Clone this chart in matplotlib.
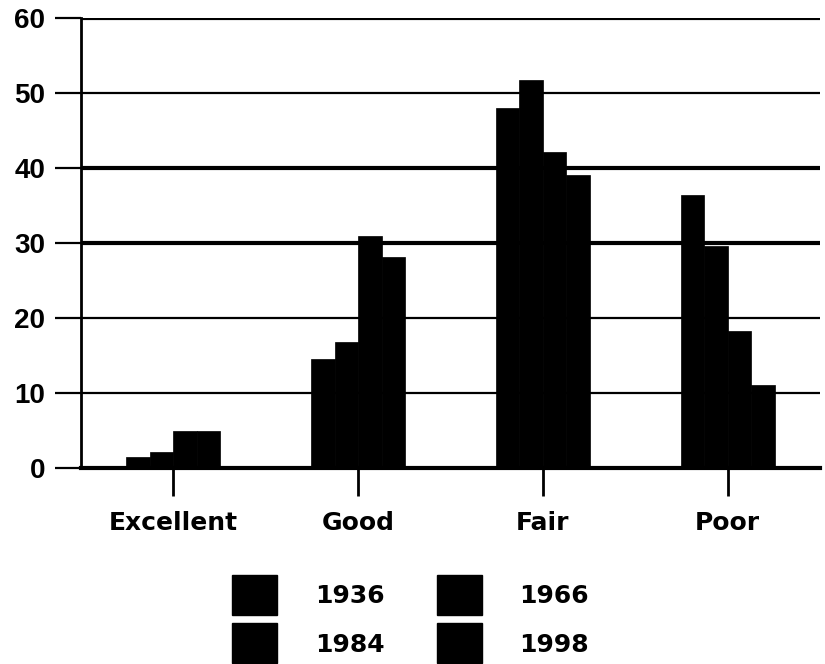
import matplotlib
matplotlib.use("Agg")
import numpy as np
import matplotlib.pyplot as plt
from matplotlib.patches import Patch, Rectangle
from matplotlib.legend_handler import HandlerPatch

categories = ["Excellent", "Good", "Fair", "Poor"]
years = ["1936", "1966", "1984", "1998"]
# percent of ratings per year
v1936 = [1.5, 14.5, 48.0, 36.4]
v1966 = [2.1, 16.8, 51.7, 29.6]
v1984 = [4.9, 30.9, 42.1, 18.3]
v1998 = [4.9, 28.1, 39.1, 11.1]
yticks = [0, 10, 20, 30, 40, 50, 60]

plt.rcParams["font.family"] = ["DejaVu Sans"]


def big_square(legend, orig_handle, xdescent, ydescent, width, height, fontsize):
    # tall squares (about 40 px), nudged a bit down to sit level with the text
    h = 1.6 * fontsize
    cy = -ydescent + (height + ydescent) / 2 - 0.15 * fontsize
    return Rectangle((-xdescent, cy - h / 2), width, h)


fig = plt.figure(figsize=(8.25, 6.64), dpi=100)
ax = fig.add_axes([0.098, 0.295, 0.896, 0.678])

x = np.arange(len(categories))
w = 0.127
series = [v1936, v1966, v1984, v1998]
for i, vals in enumerate(series):
    ax.bar(x + (i - 1.5) * w, vals, width=w, color="black", edgecolor="black",
           linewidth=0.5, zorder=3)

ax.set_xlim(-0.5, 3.5)
ax.set_ylim(0, 60)
ax.set_yticks(yticks)
ax.set_xticks(x)
ax.set_xticklabels(categories)

ax.grid(axis="y", color="black", linewidth=1.6, zorder=1)
for gl, t in zip(ax.get_ygridlines(), yticks):
    if t in (30, 40, 60):
        gl.set_linewidth(3.0)

for side in ["top", "right"]:
    ax.spines[side].set_visible(False)
ax.spines["left"].set_linewidth(2)
ax.spines["bottom"].set_linewidth(3)
ax.spines["bottom"].set_zorder(4)

ax.tick_params(axis="y", length=19, width=1.6, pad=6.5, labelsize=20)
ax.tick_params(axis="x", length=20, width=2, pad=11, labelsize=18)
for lab in ax.get_xticklabels():
    lab.set_fontweight("bold")
for lab in ax.get_yticklabels():
    lab.set_fontweight("bold")
    lab.set_family(["Liberation Sans", "DejaVu Sans"])

# legend: row-major order 1936, 1966 / 1984, 1998 (ncol fills by column)
handles = [Patch(facecolor="black", edgecolor="black") for _ in years]
order = [0, 2, 1, 3]
leg = fig.legend([handles[i] for i in order], [years[i] for i in order],
                 ncol=2, loc="center", bbox_to_anchor=(0.498, 0.067),
                 frameon=False, prop={"weight": "bold", "size": 18},
                 handlelength=1.8, handleheight=1.75, handletextpad=1.5,
                 columnspacing=2.1, labelspacing=0.55,
                 handler_map={Patch: HandlerPatch(patch_func=big_square)})

fig.savefig("out.png", dpi=100)
